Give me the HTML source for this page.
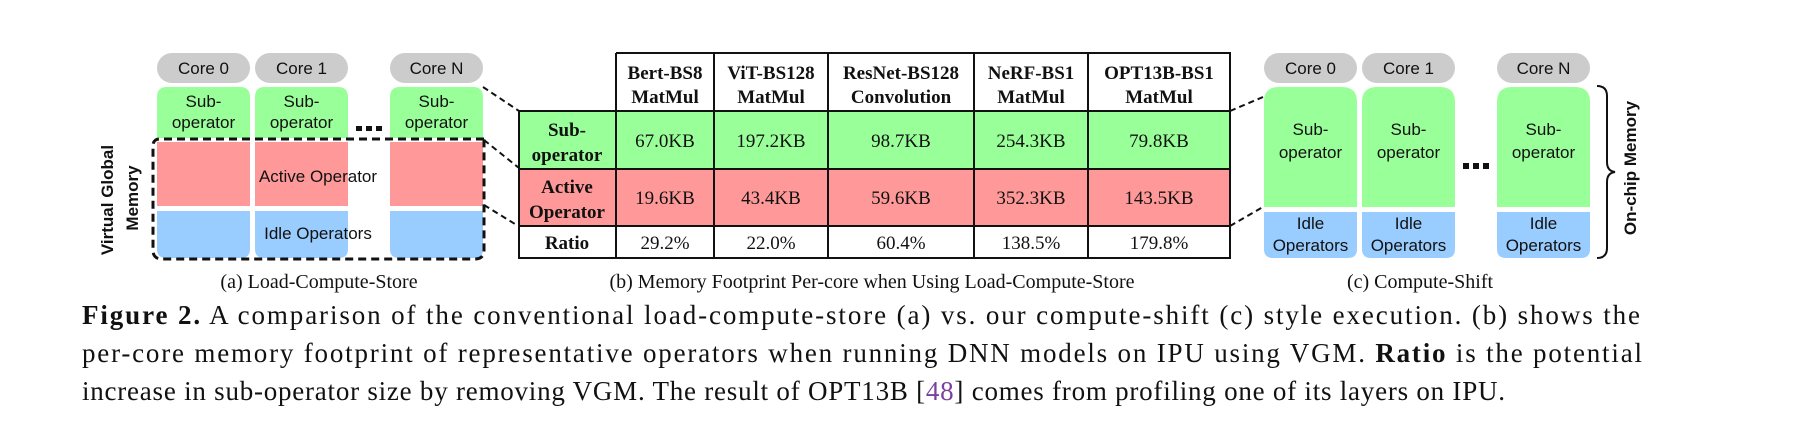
<!DOCTYPE html>
<html><head><meta charset="utf-8"><style>
html,body{margin:0;padding:0;background:#fff;}
svg{display:block}
.s{font-family:"Liberation Sans",sans-serif;font-size:17px;fill:#111}
.t{font-family:"Liberation Serif",serif;font-size:19px;fill:#111}
.b{font-weight:bold}
.c{font-family:"Liberation Serif",serif;font-size:27px;fill:#111}
</style></head><body>
<svg width="1794" height="430" viewBox="0 0 1794 430" xmlns="http://www.w3.org/2000/svg">
<!-- LEFT panel -->
<g>
<rect x="157" y="53" width="93" height="30" rx="15" fill="#cccccc"/>
<rect x="255" y="53" width="93" height="30" rx="15" fill="#cccccc"/>
<rect x="390" y="53" width="93" height="30" rx="15" fill="#cccccc"/>
<text class="s" x="203.5" y="74" text-anchor="middle">Core 0</text>
<text class="s" x="301.5" y="74" text-anchor="middle">Core 1</text>
<text class="s" x="436.5" y="74" text-anchor="middle">Core N</text>
<!-- green -->
<path d="M157 138 V97 Q157 87 167 87 H240 Q250 87 250 97 V138 Z" fill="#99ff99"/>
<path d="M255 138 V97 Q255 87 265 87 H338 Q348 87 348 97 V138 Z" fill="#99ff99"/>
<path d="M390 138 V97 Q390 87 400 87 H473 Q483 87 483 97 V138 Z" fill="#99ff99"/>
<text class="s" text-anchor="middle"><tspan x="203.5" y="107">Sub-</tspan><tspan x="203.5" y="128">operator</tspan></text>
<text class="s" text-anchor="middle"><tspan x="301.5" y="107">Sub-</tspan><tspan x="301.5" y="128">operator</tspan></text>
<text class="s" text-anchor="middle"><tspan x="436.5" y="107">Sub-</tspan><tspan x="436.5" y="128">operator</tspan></text>
<!-- red -->
<rect x="157" y="142" width="93" height="64" fill="#ff9999"/>
<rect x="255" y="142" width="93" height="64" fill="#ff9999"/>
<rect x="390" y="142" width="93" height="64" fill="#ff9999"/>
<!-- blue -->
<path d="M157 211 H250 V249 Q250 258 241 258 H166 Q157 258 157 249 Z" fill="#99ccff"/>
<path d="M255 211 H348 V249 Q348 258 339 258 H264 Q255 258 255 249 Z" fill="#99ccff"/>
<path d="M390 211 H483 V249 Q483 258 474 258 H399 Q390 258 390 249 Z" fill="#99ccff"/>
<text class="s" x="318" y="182" text-anchor="middle">Active Operator</text>
<text class="s" x="318" y="239" text-anchor="middle">Idle Operators</text>
<!-- dots -->
<rect x="356" y="126" width="6" height="5" fill="#111"/><rect x="366" y="126" width="6" height="5" fill="#111"/><rect x="376" y="126" width="6" height="5" fill="#111"/>
<!-- dashed box -->
<path d="M484 139 H160 Q153 139 153 146 V250 Q153 259 162 259 H475 Q484 259 484 250 Z" fill="none" stroke="#111" stroke-width="3" stroke-dasharray="8,5"/>
<text class="s b" transform="translate(113,200) rotate(-90)" text-anchor="middle">Virtual Global</text>
<text class="s b" transform="translate(138,198) rotate(-90)" text-anchor="middle">Memory</text>
<!-- connectors -->
<g stroke="#111" stroke-width="2" stroke-dasharray="6,4">
<line x1="483" y1="87" x2="519" y2="111"/>
<line x1="484" y1="140" x2="519" y2="168"/>
<line x1="484" y1="205" x2="515" y2="224"/>
<line x1="1230" y1="111" x2="1263" y2="97"/>
<line x1="1230" y1="226" x2="1263" y2="207"/>
</g>
</g>
<!-- TABLE -->
<g>
<rect x="519" y="111" width="711" height="58" fill="#99ff99"/>
<rect x="519" y="169" width="711" height="57" fill="#ff9999"/>
<g stroke="#111" stroke-width="2" fill="none">
<path d="M616 53 H1230 V258 H519 V111 H1230 M519 169 H1230 M519 226 H1230"/>
<path d="M616 53 V258 M714 53 V258 M828 53 V258 M974 53 V258 M1088 53 V258"/>
</g>
<g class="t b" text-anchor="middle">
<text class="t b" x="665" y="79">Bert-BS8</text><text class="t b" x="665" y="103">MatMul</text>
<text class="t b" x="771" y="79">ViT-BS128</text><text class="t b" x="771" y="103">MatMul</text>
<text class="t b" x="901" y="79">ResNet-BS128</text><text class="t b" x="901" y="103">Convolution</text>
<text class="t b" x="1031" y="79">NeRF-BS1</text><text class="t b" x="1031" y="103">MatMul</text>
<text class="t b" x="1159" y="79">OPT13B-BS1</text><text class="t b" x="1159" y="103">MatMul</text>
<text class="t b" x="567" y="136">Sub-</text><text class="t b" x="567" y="161">operator</text>
<text class="t b" x="567" y="193">Active</text><text class="t b" x="567" y="218">Operator</text>
<text class="t b" x="567" y="249">Ratio</text>
</g>
<g text-anchor="middle">
<text class="t" x="665" y="147">67.0KB</text><text class="t" x="771" y="147">197.2KB</text><text class="t" x="901" y="147">98.7KB</text><text class="t" x="1031" y="147">254.3KB</text><text class="t" x="1159" y="147">79.8KB</text>
<text class="t" x="665" y="204">19.6KB</text><text class="t" x="771" y="204">43.4KB</text><text class="t" x="901" y="204">59.6KB</text><text class="t" x="1031" y="204">352.3KB</text><text class="t" x="1159" y="204">143.5KB</text>
<text class="t" x="665" y="249">29.2%</text><text class="t" x="771" y="249">22.0%</text><text class="t" x="901" y="249">60.4%</text><text class="t" x="1031" y="249">138.5%</text><text class="t" x="1159" y="249">179.8%</text>
</g>
</g>
<!-- RIGHT panel -->
<g>
<rect x="1264" y="53" width="93" height="30" rx="15" fill="#cccccc"/>
<rect x="1362" y="53" width="93" height="30" rx="15" fill="#cccccc"/>
<rect x="1497" y="53" width="93" height="30" rx="15" fill="#cccccc"/>
<text class="s" x="1310.5" y="74" text-anchor="middle">Core 0</text>
<text class="s" x="1408.5" y="74" text-anchor="middle">Core 1</text>
<text class="s" x="1543.5" y="74" text-anchor="middle">Core N</text>
<path d="M1264 207 V102 Q1264 87 1279 87 H1342 Q1357 87 1357 102 V207 Z" fill="#99ff99"/>
<path d="M1362 207 V102 Q1362 87 1377 87 H1440 Q1455 87 1455 102 V207 Z" fill="#99ff99"/>
<path d="M1497 207 V102 Q1497 87 1512 87 H1575 Q1590 87 1590 102 V207 Z" fill="#99ff99"/>
<path d="M1264 212 H1357 V249 Q1357 258 1348 258 H1273 Q1264 258 1264 249 Z" fill="#99ccff"/>
<path d="M1362 212 H1455 V249 Q1455 258 1446 258 H1371 Q1362 258 1362 249 Z" fill="#99ccff"/>
<path d="M1497 212 H1590 V249 Q1590 258 1581 258 H1506 Q1497 258 1497 249 Z" fill="#99ccff"/>
<text class="s" text-anchor="middle"><tspan x="1310.5" y="135">Sub-</tspan><tspan x="1310.5" y="158">operator</tspan></text>
<text class="s" text-anchor="middle"><tspan x="1408.5" y="135">Sub-</tspan><tspan x="1408.5" y="158">operator</tspan></text>
<text class="s" text-anchor="middle"><tspan x="1543.5" y="135">Sub-</tspan><tspan x="1543.5" y="158">operator</tspan></text>
<text class="s" text-anchor="middle"><tspan x="1310.5" y="229">Idle</tspan><tspan x="1310.5" y="251">Operators</tspan></text>
<text class="s" text-anchor="middle"><tspan x="1408.5" y="229">Idle</tspan><tspan x="1408.5" y="251">Operators</tspan></text>
<text class="s" text-anchor="middle"><tspan x="1543.5" y="229">Idle</tspan><tspan x="1543.5" y="251">Operators</tspan></text>
<rect x="1463" y="163" width="6" height="6" fill="#111"/><rect x="1473" y="163" width="6" height="6" fill="#111"/><rect x="1483" y="163" width="6" height="6" fill="#111"/>
<path d="M1597 86 Q1607 86 1607 96 V162 Q1607 171 1615 172 Q1607 173 1607 182 V248 Q1607 258 1597 258" fill="none" stroke="#111" stroke-width="2"/>
<text class="s b" transform="translate(1636,168) rotate(-90)" text-anchor="middle">On-chip Memory</text>
</g>
<!-- sub captions -->
<text class="t" x="319" y="288" text-anchor="middle" font-size="20" style="font-size:20px">(a) Load-Compute-Store</text>
<text class="t" x="872" y="288" text-anchor="middle" style="font-size:20px">(b) Memory Footprint Per-core when Using Load-Compute-Store</text>
<text class="t" x="1420" y="288" text-anchor="middle" style="font-size:20px">(c) Compute-Shift</text>
<!-- caption -->
<text class="c" x="82" y="324" textLength="1558" lengthAdjust="spacing"><tspan font-weight="bold">Figure 2.</tspan> A comparison of the conventional load-compute-store (a) vs. our compute-shift (c) style execution. (b) shows the</text>
<text class="c" x="82" y="362" textLength="1560" lengthAdjust="spacing">per-core memory footprint of representative operators when running DNN models on IPU using VGM. <tspan font-weight="bold">Ratio</tspan> is the potential</text>
<text class="c" x="82" y="400" textLength="1423" lengthAdjust="spacing">increase in sub-operator size by removing VGM. The result of OPT13B [<tspan fill="#7b3f9e">48</tspan>] comes from profiling one of its layers on IPU.</text>
</svg>
</body></html>
